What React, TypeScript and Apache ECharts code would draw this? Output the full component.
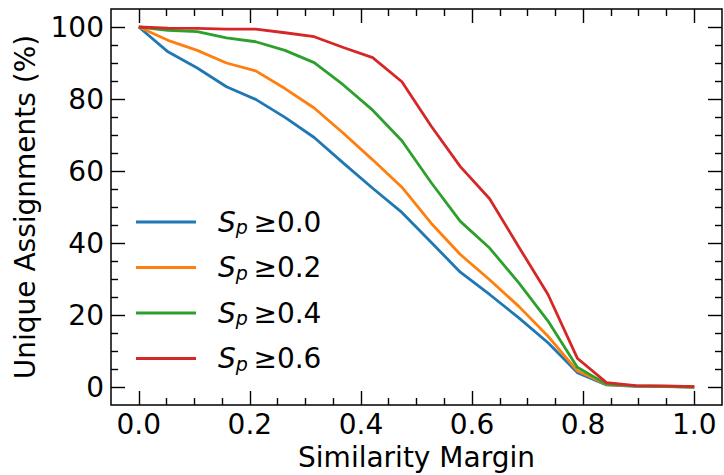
import React, { useEffect, useRef } from 'react';
import * as echarts from 'echarts';

const margins = [0, 0.0526, 0.1053, 0.1579, 0.2105, 0.2632, 0.3158, 0.3684, 0.4211, 0.4737, 0.5263, 0.5789, 0.6316, 0.6842, 0.7368, 0.7895, 0.8421, 0.8947, 0.9474, 1.0];
const sp00 = [100, 93.1, 88.6, 83.4, 79.9, 74.9, 69.3, 62.2, 55.2, 48.5, 40.2, 31.9, 25.7, 19.2, 12.3, 4.0, 0.6, 0.2, 0.1, 0.0];
const sp02 = [100, 96.3, 93.5, 90.0, 87.8, 82.9, 77.5, 70.5, 63.1, 55.5, 45.5, 36.8, 29.8, 22.4, 14.1, 4.5, 0.7, 0.3, 0.2, 0.0];
const sp04 = [100, 99.1, 98.7, 97.0, 95.9, 93.5, 90.1, 83.9, 76.9, 68.4, 56.8, 46.0, 38.6, 28.9, 18.3, 5.5, 0.8, 0.3, 0.2, 0.0];
const sp06 = [100, 99.7, 99.6, 99.4, 99.4, 98.4, 97.3, 94.3, 91.5, 84.8, 72.5, 61.2, 52.3, 38.9, 25.7, 8.0, 1.2, 0.4, 0.3, 0.1];
const thresholds = ['0.0', '0.2', '0.4', '0.6'];
const colors = ['#1f77b4', '#ff7f0e', '#2ca02c', '#d62728'];
const xMajor = [0, 0.2, 0.4, 0.6, 0.8, 1.0];
const xMinor = [0.05, 0.1, 0.15, 0.25, 0.3, 0.35, 0.45, 0.5, 0.55, 0.65, 0.7, 0.75, 0.85, 0.9, 0.95];
const yMajor = [0, 20, 40, 60, 80, 100];
const yMinor = [5, 10, 15, 25, 30, 35, 45, 50, 55, 65, 70, 75, 85, 90, 95];

const FONT = 'DejaVu Sans';
const X_MIN = -0.05, X_MAX = 1.05, Y_MIN = -5, Y_MAX = 105;

export default function App() {
  const ref = useRef<HTMLDivElement>(null);
  useEffect(() => {
    if (!ref.current) return;
    const chart = echarts.init(ref.current, undefined, { renderer: 'svg' });
    const allSeries = [sp00, sp02, sp04, sp06];
    const tickStyle = { color: '#000', width: 1.4 };
    const gridRect = { left: 111, right: 2, top: 9, bottom: 70, outerBoundsMode: 'none' as any };
    const mkX = (gridIndex: number, position: string, ticks: number[], len: number, labels: boolean, name?: string) => ({
      type: 'value', gridIndex, position, min: X_MIN, max: X_MAX,
      axisLine: { show: false, onZero: false }, splitLine: { show: false },
      axisTick: { show: true, inside: true, length: len, lineStyle: tickStyle, customValues: ticks },
      axisLabel: labels ? { show: true, customValues: ticks, formatter: (v: number) => v.toFixed(1), fontSize: 28, fontFamily: FONT, color: '#000', margin: 5 } : { show: false },
      name, nameLocation: 'middle', nameGap: 38,
      nameTextStyle: { fontSize: 28, fontFamily: FONT, color: '#000' },
    });
    const mkY = (gridIndex: number, position: string, ticks: number[], len: number, labels: boolean, name?: string) => ({
      type: 'value', gridIndex, position, min: Y_MIN, max: Y_MAX,
      axisLine: { show: false, onZero: false }, splitLine: { show: false },
      axisTick: { show: true, inside: true, length: len, lineStyle: tickStyle, customValues: ticks },
      axisLabel: labels ? { show: true, customValues: ticks, formatter: (v: number) => String(Math.round(v)), fontSize: 28, fontFamily: FONT, color: '#000', margin: 7 } : { show: false },
      name, nameLocation: 'middle', nameGap: 72, nameRotate: 90,
      nameTextStyle: { fontSize: 28, fontFamily: FONT, color: '#000' },
    });
    chart.setOption({
      animation: false,
      backgroundColor: '#fff',
      grid: [
        { ...gridRect, show: true, borderColor: '#000', borderWidth: 1.5, backgroundColor: 'transparent' },
        { ...gridRect, show: false },
      ],
      xAxis: [
        mkX(0, 'bottom', xMajor, 14, true, 'Similarity Margin'),
        mkX(0, 'top', xMajor, 14, false),
        mkX(1, 'bottom', xMinor, 7, false),
        mkX(1, 'top', xMinor, 7, false),
      ],
      yAxis: [
        mkY(0, 'left', yMajor, 14, true, 'Unique Assignments (%)'),
        mkY(0, 'right', yMajor, 14, false),
        mkY(1, 'left', yMinor, 7, false),
        mkY(1, 'right', yMinor, 7, false),
      ],
      legend: {
        orient: 'vertical', left: 136, top: 208, padding: 0, itemGap: 17, align: 'left',
        itemWidth: 60, itemHeight: 3, icon: 'rect', selectedMode: false,
        data: thresholds.map((t) => ({ name: t })),
        formatter: (name: string) => `{s|S}{p|p}{t|\u2009≥${name}}`,
        textStyle: {
          fontFamily: FONT, color: '#000', fontSize: 28, padding: [0, 0, 0, 17],
          rich: {
            s: { fontFamily: FONT, fontStyle: 'italic', fontSize: 28, color: '#000' },
            p: { fontFamily: FONT, fontStyle: 'italic', fontSize: 19, padding: [10, 0, 0, 0], color: '#000' },
            t: { fontFamily: FONT, fontSize: 28, color: '#000' },
          },
        },
      },
      series: allSeries.map((vals, i) => ({
        type: 'line', name: thresholds[i], xAxisIndex: 0, yAxisIndex: 0,
        data: margins.map((m, j) => [m, vals[j]]),
        showSymbol: false, symbol: 'none', smooth: false,
        lineStyle: { color: colors[i], width: 2.8 },
        itemStyle: { color: colors[i] },
        z: 2 + i,
      })),
    });
    return () => chart.dispose();
  }, []);
  return <div ref={ref} style={{ position: 'fixed', left: 0, top: 0, width: 724, height: 475 }} />;
}
